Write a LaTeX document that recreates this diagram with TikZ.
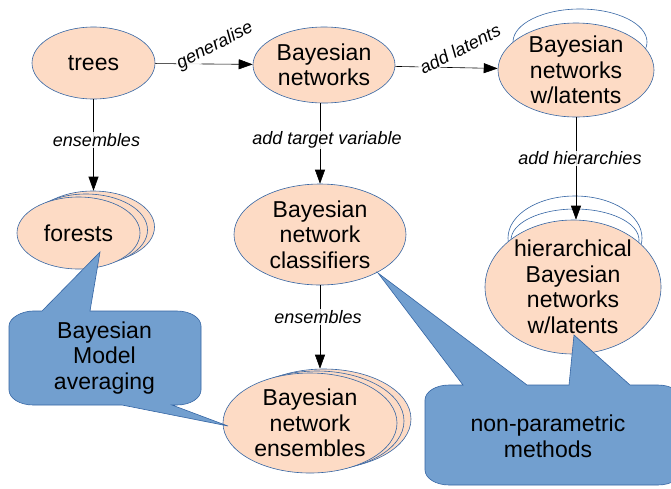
\documentclass[tikz,border=0pt]{standalone}
\usepackage{fontspec}
\setmainfont{Liberation Sans}
\usetikzlibrary{shapes.geometric,arrows.meta}

\definecolor{peach}{RGB}{253,219,197}
\definecolor{edgeblue}{HTML}{3465A4}
\definecolor{callfill}{HTML}{729FCF}

\tikzset{
  blob/.style={ellipse, draw=edgeblue, line width=0.6pt, fill=peach,
    inner sep=-30pt, align=center, font=\fontsize{23}{25.5}\selectfont},
  ghost/.style={ellipse, draw=edgeblue, line width=0.6pt, inner sep=0pt},
  ghostfill/.style={ghost, fill=peach},
  arr/.style={draw=black, line width=0.6pt, -{Triangle[length=14pt,width=10pt]}},
  lab/.style={fill=white, fill opacity=0.85, text opacity=1, inner sep=1pt,
    font=\fontsize{18}{20}\selectfont\itshape},
  callout/.style={fill=callfill, draw=edgeblue, line width=0.6pt},
  calltext/.style={align=center, font=\fontsize{23}{25.5}\selectfont}
}

\begin{document}
\begin{tikzpicture}[x=1pt,y=-1pt]
\useasboundingbox (0,0) rectangle (671,488);
\fill[white] (0,0) rectangle (671,488);

% outlines peeking out behind the stacked and layered concepts
\node[ghost, minimum width=134pt, minimum height=66pt] (wlB) at (580,42) {};
\node[ghost, minimum width=134pt, minimum height=84pt] (hierB2) at (575,238) {};
\node[ghost, minimum width=128pt, minimum height=62pt] (hierB1) at (575,240) {};
\node[ghostfill, minimum width=123pt, minimum height=72pt] (forB2) at (93,227) {};
\node[ghostfill, minimum width=123pt, minimum height=72pt] (forB1) at (86,230) {};
\node[ghostfill, minimum width=174pt, minimum height=100pt] (ensB2) at (324,419) {};
\node[ghostfill, minimum width=174pt, minimum height=100pt] (ensB1) at (317,421) {};

% concepts
\node[blob, minimum width=123pt, minimum height=72pt] (trees) at (93.5,63) {trees};
\node[blob, minimum width=142pt, minimum height=76pt] (bn) at (324,65) {Bayesian\\networks};
\node[blob, minimum width=156pt, minimum height=94pt] (wl) at (576,70) {Bayesian\\networks\\w/latents};
\node[blob, minimum width=123pt, minimum height=72pt] (forests) at (78.5,233) {forests};
\node[blob, minimum width=172pt, minimum height=101pt] (cls) at (320,234.5) {Bayesian\\network\\classifiers};
\node[blob, minimum width=176pt, minimum height=134pt] (hier) at (573,287) {hierarchical\\Bayesian\\networks\\w/latents};
\node[blob, minimum width=174pt, minimum height=100pt] (ens) at (310,423) {Bayesian\\network\\ensembles};

% relations
\draw[arr] (trees) -- (bn);
\draw[arr] (bn) -- (wl);
\draw[arr] (trees.south) -- (trees.south |- forB2.north);
\draw[arr] (bn.south -| cls.north) -- (cls.north);
\draw[arr] (wl.south) -- (wl.south |- hier.north);
\draw[arr] (cls.south) -- (cls.south |- ensB2.north);

\node[lab, rotate=27] (lgen) at (215,46) {generalise};
\node[lab, rotate=27] (llat) at (460,49) {add latents};
\node[lab] (lens1) at (96.5,140) {ensembles};
\node[lab] (ltgt) at (327,140) {add target variable};
\node[lab] (lhier) at (580,158.5) {add hierarchies};
\node[lab] (lens2) at (318,317) {ensembles};

% callouts
\path[callout] (9,326) .. controls (9,317.75) and (22.2,311) .. (33,311)
  -- (42,311) -- (100,252) -- (90,311)
  -- (177,311) .. controls (190.2,311) and (201,317.75) .. (201,326)
  -- (201,390) .. controls (201,398.25) and (190.2,405) .. (177,405)
  -- (172,405) -- (228,426) -- (122,405)
  -- (33,405) .. controls (19.8,405) and (9,398.25) .. (9,390) -- cycle;
\node[calltext] (bma) at (104.5,358) {Bayesian\\Model\\averaging};

\path[callout] (425,400) .. controls (425,391.75) and (435.8,385) .. (449,385)
  -- (463,385) -- (378,273) -- (527,385)
  -- (569,385) -- (574,335) -- (630,385)
  -- (658,385) .. controls (671.2,385) and (682,391.75) .. (682,400)
  -- (682,470) .. controls (682,478.25) and (671.2,485) .. (658,485)
  -- (449,485) .. controls (435.8,485) and (425,478.25) .. (425,470) -- cycle;
\node[calltext] (npm) at (548,436.5) {non-parametric\\methods};
\end{tikzpicture}
\end{document}
